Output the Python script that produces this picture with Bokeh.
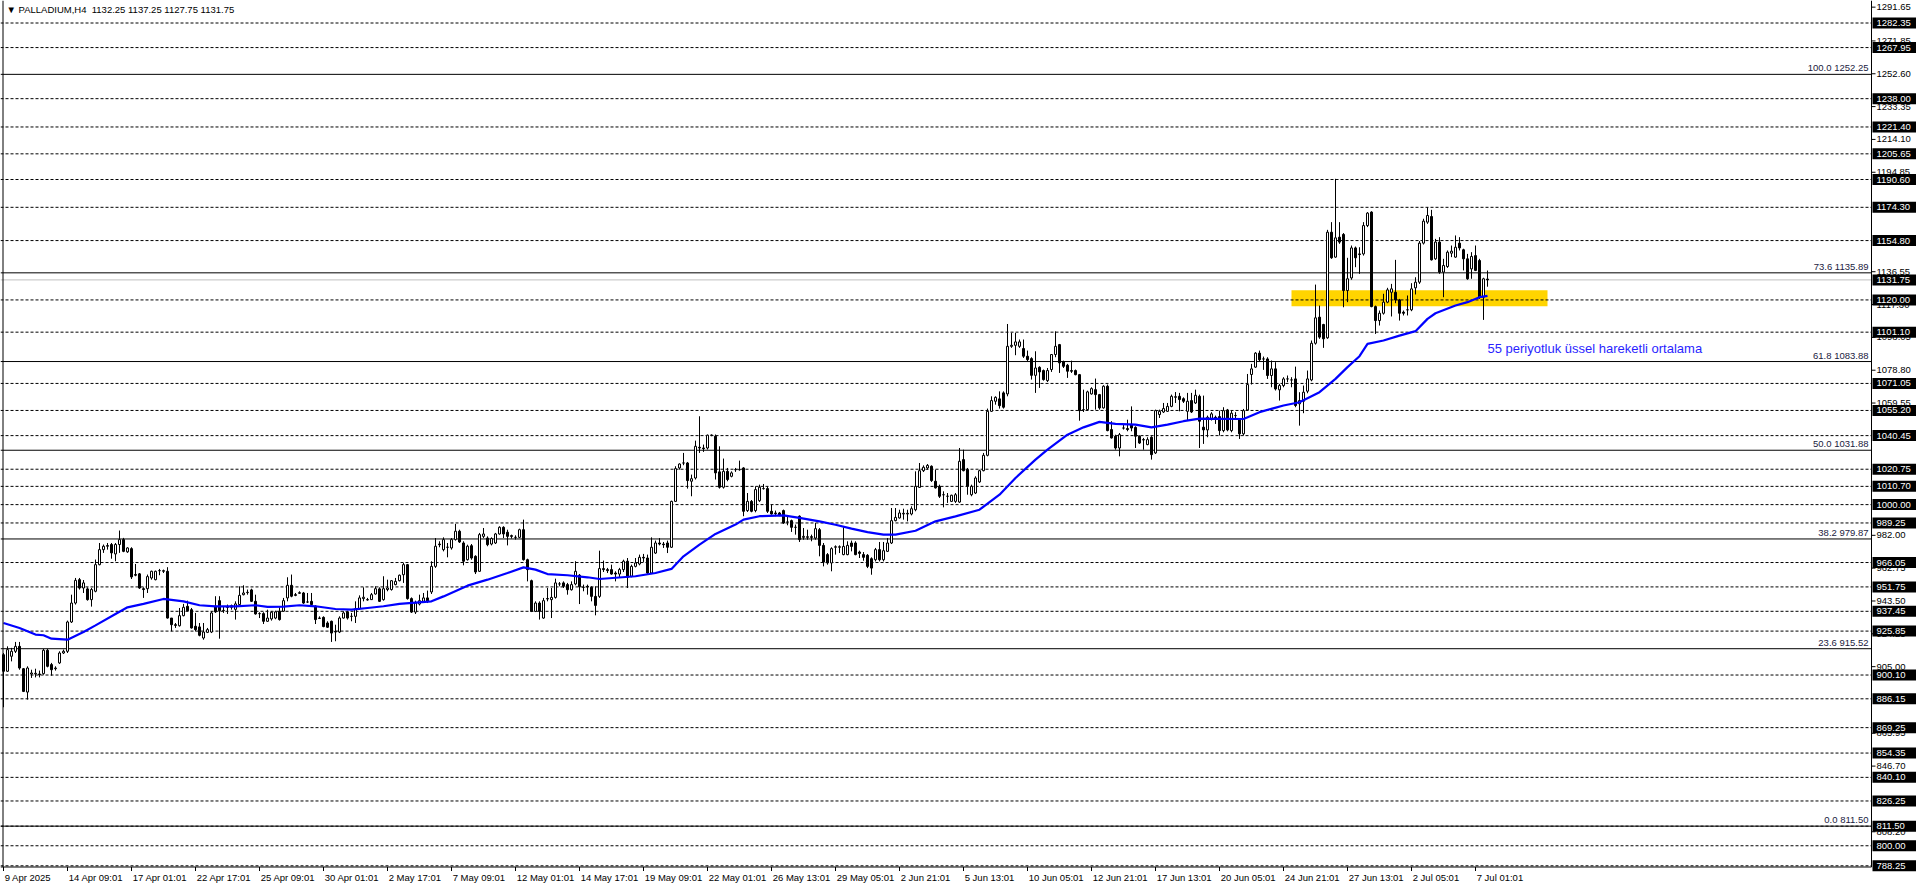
from bokeh.plotting import figure
from bokeh.models import ColumnDataSource, Range1d
from bokeh.core.properties import value
from bokeh.embed import file_html
from bokeh.resources import INLINE

# ---------------- data ----------------
title_text = "\u25BC PALLADIUM,H4\u00a0\u00a01132.25 1137.25 1127.75 1131.75"
ema_text = "55 periyotluk \u00fcssel hareketli ortalama"

opens = [
912.0, 902.3, 911.1, 914.0, 916.9, 903.8, 890.1, 900.7, 900.7, 900.7,
900.9, 914.6, 906.2, 903.8, 907.2, 913.0, 914.0, 931.2, 942.3, 956.0,
951.1, 950.6, 944.3, 949.2, 964.8, 973.6, 975.6, 976.6, 971.1, 976.6,
979.5, 972.3, 974.2, 959.0, 959.4, 950.7, 950.7, 957.0, 956.0, 961.3,
960.9, 960.9, 933.5, 929.6, 929.0, 934.9, 940.4, 938.4, 928.7, 928.3,
921.8, 925.1, 925.3, 940.4, 943.7, 937.8, 940.0, 939.8, 938.6, 941.4,
947.2, 948.4, 950.0, 943.3, 936.1, 936.1, 931.6, 933.0, 933.5, 937.5,
937.5, 945.3, 952.7, 947.2, 948.0, 948.2, 942.9, 943.3, 940.4, 933.5,
933.9, 930.6, 931.6, 925.7, 925.3, 933.5, 937.1, 934.5, 934.5, 939.0,
944.9, 944.3, 944.3, 947.6, 950.6, 944.3, 950.2, 950.2, 953.1, 955.4,
958.9, 964.8, 944.9, 937.0, 941.7, 943.3, 945.3, 948.8, 963.8, 976.9,
973.6, 975.0, 974.6, 979.5, 984.4, 977.5, 967.7, 975.9, 969.7, 960.9,
981.4, 980.4, 976.9, 977.5, 982.8, 986.7, 983.8, 981.8, 980.8, 980.8,
985.3, 967.7, 955.4, 937.4, 942.3, 933.5, 944.9, 944.3, 945.6, 953.5,
954.1, 953.1, 950.1, 953.5, 958.6, 951.5, 952.1, 951.5, 946.2, 946.2,
962.5, 961.9, 961.9, 959.9, 959.3, 961.9, 966.8, 958.0, 963.8, 965.2,
969.1, 968.7, 959.9, 971.6, 977.5, 976.9, 977.5, 975.0, 1001.9, 1021.5,
1024.4, 1024.4, 1013.7, 1015.6, 1033.6, 1033.2, 1033.2, 1040.7, 1040.1, 1019.2,
1010.2, 1019.5, 1016.6, 1020.5, 1020.5, 1021.5, 996.5, 1001.9, 996.5, 1002.3,
1009.4, 1009.4, 996.1, 995.1, 995.1, 996.5, 989.8, 990.6, 986.7, 993.2,
980.8, 980.8, 981.2, 980.4, 985.3, 976.1, 970.7, 965.8, 975.0, 975.0,
970.7, 970.7, 977.5, 977.5, 972.2, 970.7, 970.3, 968.3, 967.7, 973.6,
967.7, 972.6, 977.5, 990.6, 992.2, 994.5, 994.5, 994.5, 997.0, 1010.1,
1019.9, 1021.5, 1022.5, 1013.7, 1010.7, 1005.8, 1004.9, 1001.9, 1001.9, 1001.5,
1026.4, 1020.5, 1005.8, 1006.8, 1013.3, 1019.9, 1028.9, 1054.7, 1060.6, 1062.0,
1065.5, 1064.9, 1092.8, 1093.4, 1092.8, 1091.5, 1087.0, 1085.6, 1075.8, 1080.5,
1078.6, 1072.7, 1079.2, 1088.0, 1093.8, 1083.7, 1081.7, 1078.6, 1078.6, 1076.2,
1055.7, 1055.7, 1064.9, 1067.4, 1064.5, 1056.7, 1069.4, 1044.0, 1040.1, 1033.2,
1044.9, 1044.6, 1046.9, 1045.3, 1040.1, 1038.1, 1035.2, 1039.5, 1030.3, 1052.8,
1054.3, 1054.7, 1057.6, 1062.9, 1063.5, 1062.1, 1054.7, 1061.0, 1059.6, 1063.5,
1045.4, 1043.8, 1050.3, 1051.2, 1051.6, 1043.4, 1055.5, 1043.4, 1052.2, 1049.7,
1041.5, 1055.5, 1076.3, 1080.6, 1088.8, 1085.4, 1085.4, 1075.7, 1079.6, 1067.3,
1069.8, 1073.7, 1073.1, 1073.7, 1059.1, 1060.6, 1066.5, 1073.1, 1094.6, 1109.9,
1105.6, 1097.8, 1159.7, 1145.1, 1156.8, 1158.4, 1125.5, 1132.9, 1150.5, 1147.0,
1147.0, 1163.6, 1171.5, 1116.1, 1107.9, 1112.2, 1118.7, 1124.5, 1124.5, 1120.0,
1112.8, 1114.2, 1114.2, 1127.1, 1130.4, 1153.3, 1165.6, 1168.9, 1144.1, 1153.9,
1136.3, 1139.6, 1147.4, 1145.1, 1153.3, 1149.4, 1144.1, 1138.2, 1146.0, 1143.1,
1121.6, 1132.25]

highs = [
913.0, 916.9, 916.0, 919.5, 919.5, 904.2, 905.2, 903.2, 903.8, 902.7,
915.4, 915.4, 907.2, 905.2, 914.0, 915.0, 932.0, 947.2, 957.0, 957.0,
955.8, 951.5, 951.1, 967.8, 977.5, 976.6, 977.5, 977.5, 977.5, 984.8,
980.5, 975.0, 975.0, 965.2, 959.9, 951.5, 959.0, 961.3, 961.3, 962.3,
961.9, 963.3, 933.5, 930.6, 939.4, 941.8, 943.7, 939.4, 936.5, 930.6,
930.6, 927.7, 937.5, 946.3, 946.3, 940.4, 941.4, 941.4, 943.3, 952.1,
952.7, 950.2, 950.7, 947.2, 936.9, 936.9, 938.4, 937.5, 937.8, 939.8,
945.3, 957.4, 959.0, 948.2, 949.2, 948.8, 948.2, 948.2, 941.0, 934.5,
934.5, 931.6, 932.0, 929.6, 934.5, 937.5, 937.8, 936.5, 943.3, 946.8,
951.5, 945.3, 948.2, 952.1, 951.5, 958.0, 956.0, 955.8, 957.0, 959.0,
965.8, 965.2, 945.6, 943.7, 947.2, 948.2, 949.6, 966.8, 980.4, 978.5,
980.8, 977.5, 980.4, 988.7, 985.3, 978.5, 976.5, 976.9, 970.3, 983.4,
986.3, 981.4, 980.8, 983.4, 987.3, 987.3, 985.3, 982.4, 982.0, 985.9,
991.2, 968.3, 956.0, 943.3, 943.3, 945.3, 951.1, 951.1, 956.6, 954.6,
955.0, 954.1, 955.0, 966.8, 959.3, 953.1, 953.1, 952.1, 952.1, 973.0,
967.2, 962.9, 964.8, 960.9, 962.9, 967.7, 968.7, 964.8, 968.7, 970.7,
971.1, 970.7, 980.8, 978.9, 980.4, 978.1, 978.9, 1002.3, 1022.5, 1024.2,
1030.3, 1025.0, 1017.6, 1037.5, 1051.8, 1035.2, 1041.1, 1041.1, 1041.1, 1034.2,
1027.0, 1021.5, 1019.5, 1021.5, 1025.8, 1021.9, 1006.8, 1002.7, 1010.7, 1011.7,
1012.1, 1010.7, 1000.0, 996.5, 995.7, 997.1, 993.2, 991.2, 988.3, 993.7,
986.3, 985.3, 982.4, 989.2, 986.3, 977.5, 971.6, 975.0, 976.1, 976.1,
986.7, 978.5, 978.9, 978.5, 973.0, 972.2, 971.0, 969.1, 974.6, 978.1,
978.1, 980.4, 998.0, 998.0, 997.0, 997.6, 997.0, 999.0, 1019.5, 1024.4,
1023.0, 1023.8, 1023.0, 1020.5, 1011.7, 1007.8, 1006.8, 1005.8, 1006.8, 1033.2,
1032.2, 1021.5, 1011.7, 1016.6, 1020.5, 1030.3, 1056.3, 1063.5, 1063.5, 1066.4,
1066.4, 1105.9, 1100.7, 1100.7, 1096.8, 1096.8, 1090.3, 1086.4, 1089.9, 1081.1,
1079.2, 1080.1, 1088.3, 1101.6, 1094.2, 1084.4, 1082.5, 1084.4, 1079.2, 1076.6,
1067.4, 1066.8, 1068.8, 1073.9, 1064.9, 1070.0, 1070.4, 1048.9, 1041.0, 1042.0,
1046.9, 1049.8, 1057.6, 1045.9, 1040.6, 1039.1, 1039.5, 1040.1, 1055.7, 1055.7,
1059.6, 1059.6, 1064.5, 1066.0, 1065.5, 1062.9, 1065.5, 1065.5, 1067.4, 1064.5,
1063.9, 1052.2, 1054.2, 1052.2, 1055.1, 1057.1, 1056.1, 1055.1, 1054.2, 1050.3,
1056.1, 1076.6, 1082.5, 1089.4, 1090.3, 1086.8, 1086.4, 1084.5, 1083.5, 1070.8,
1074.7, 1075.7, 1074.7, 1080.9, 1065.9, 1069.8, 1078.6, 1096.2, 1129.0, 1116.7,
1106.0, 1161.1, 1165.6, 1191.0, 1165.6, 1159.2, 1144.7, 1151.9, 1151.3, 1150.9,
1165.6, 1171.5, 1172.0, 1116.7, 1113.8, 1123.6, 1127.1, 1129.4, 1143.5, 1120.6,
1113.8, 1122.6, 1129.8, 1133.3, 1154.5, 1167.6, 1174.4, 1172.8, 1155.8, 1156.8,
1144.1, 1149.0, 1151.9, 1157.8, 1156.8, 1150.0, 1147.0, 1148.0, 1151.9, 1144.1,
1133.0, 1137.25]

lows = [
881.2, 901.9, 908.1, 913.0, 903.2, 890.1, 885.7, 898.4, 898.7, 898.7,
900.3, 904.6, 899.7, 902.7, 906.6, 912.4, 913.0, 930.6, 941.4, 950.2,
948.2, 943.7, 940.2, 948.6, 964.4, 971.7, 973.6, 968.3, 966.8, 971.7,
972.1, 971.7, 956.4, 958.0, 950.6, 945.3, 948.2, 956.0, 955.6, 958.6,
959.9, 933.2, 925.7, 927.7, 928.5, 934.5, 937.5, 927.3, 925.7, 922.8,
920.8, 924.7, 924.7, 936.5, 921.4, 936.5, 935.9, 938.4, 932.6, 941.0,
946.8, 947.2, 942.9, 935.5, 933.5, 930.0, 931.2, 932.0, 932.8, 932.0,
937.1, 943.3, 945.7, 946.3, 947.6, 941.8, 942.3, 941.0, 930.0, 933.0,
928.1, 927.7, 919.5, 919.9, 924.7, 933.2, 932.6, 931.6, 930.6, 938.4,
943.3, 943.7, 944.1, 947.2, 942.9, 943.7, 949.2, 949.6, 952.7, 955.0,
954.1, 944.3, 936.5, 935.9, 940.9, 942.3, 942.3, 947.6, 962.9, 975.0,
972.6, 969.1, 973.6, 978.9, 977.5, 964.4, 967.2, 967.7, 959.3, 960.5,
980.4, 975.6, 976.1, 976.9, 982.4, 980.4, 976.1, 980.1, 979.5, 980.4,
967.2, 955.0, 937.0, 937.0, 932.6, 933.1, 943.3, 933.5, 944.9, 952.1,
951.1, 947.2, 949.6, 952.7, 941.7, 949.2, 947.2, 943.3, 935.1, 945.3,
960.5, 959.9, 958.9, 955.0, 957.0, 960.5, 951.1, 957.4, 963.2, 964.4,
966.4, 959.3, 959.3, 971.1, 976.1, 974.6, 971.6, 974.6, 1001.6, 1020.5,
1023.1, 1009.4, 1004.9, 1014.7, 1030.3, 1030.9, 1032.3, 1040.1, 1014.7, 1009.4,
1009.4, 1013.7, 1016.0, 1019.2, 1019.9, 993.2, 995.7, 995.5, 995.5, 1001.6,
1008.8, 995.1, 994.1, 993.2, 993.2, 988.7, 987.9, 984.0, 982.4, 978.1,
979.4, 979.4, 978.5, 979.4, 969.7, 963.8, 964.8, 960.9, 970.7, 971.6,
970.3, 970.3, 972.6, 970.3, 968.7, 967.1, 962.8, 958.9, 966.7, 966.7,
966.7, 972.2, 976.9, 990.2, 991.8, 991.2, 990.2, 993.7, 996.1, 1009.8,
1019.1, 1020.5, 1013.3, 1009.4, 1003.9, 998.4, 1001.0, 1001.5, 1001.0, 1001.0,
1019.5, 1005.8, 1004.9, 1006.2, 1012.7, 1019.5, 1028.3, 1054.3, 1058.6, 1056.3,
1056.3, 1063.5, 1091.9, 1087.6, 1091.9, 1086.0, 1084.0, 1073.3, 1065.5, 1068.4,
1072.7, 1071.9, 1077.8, 1086.4, 1077.2, 1080.1, 1074.3, 1077.2, 1075.8, 1049.2,
1054.3, 1055.1, 1064.5, 1055.7, 1055.7, 1056.3, 1043.0, 1038.7, 1032.2, 1028.3,
1044.0, 1043.0, 1043.0, 1033.2, 1035.6, 1032.2, 1034.8, 1026.4, 1029.7, 1050.8,
1053.7, 1054.3, 1057.1, 1059.6, 1054.7, 1059.6, 1049.2, 1053.7, 1059.0, 1033.2,
1035.6, 1039.5, 1049.3, 1047.3, 1040.5, 1042.4, 1043.0, 1042.4, 1050.3, 1038.5,
1040.5, 1055.1, 1070.4, 1080.2, 1084.1, 1079.0, 1073.7, 1068.8, 1066.9, 1061.0,
1068.8, 1071.8, 1068.8, 1057.1, 1046.3, 1053.6, 1065.3, 1072.3, 1093.8, 1097.2,
1091.9, 1097.2, 1144.1, 1144.7, 1152.9, 1115.7, 1118.7, 1131.8, 1139.2, 1135.3,
1146.0, 1162.7, 1115.7, 1100.1, 1105.0, 1111.4, 1118.1, 1110.3, 1118.1, 1107.9,
1110.9, 1110.9, 1113.4, 1123.2, 1129.4, 1152.5, 1164.6, 1143.1, 1143.5, 1135.3,
1121.6, 1138.8, 1145.1, 1144.7, 1149.0, 1137.3, 1131.8, 1132.4, 1136.9, 1120.6,
1108.3, 1127.75]

closes = [
902.3, 915.0, 914.0, 916.9, 904.2, 890.5, 904.2, 901.3, 901.1, 900.3,
914.6, 905.2, 903.2, 904.2, 913.0, 914.0, 931.2, 942.3, 955.6, 951.1,
954.1, 944.3, 950.2, 964.8, 973.6, 975.6, 976.0, 971.7, 976.6, 979.5,
972.6, 974.6, 957.6, 958.6, 951.1, 950.2, 957.8, 960.9, 960.9, 961.3,
961.3, 933.5, 929.6, 929.2, 934.9, 939.8, 937.8, 927.7, 926.7, 923.4,
925.3, 926.7, 936.5, 937.1, 937.8, 938.0, 939.8, 940.8, 941.8, 946.8,
948.2, 948.6, 943.3, 935.9, 936.1, 931.6, 933.5, 936.9, 937.1, 932.6,
943.7, 952.7, 946.3, 946.8, 948.4, 942.3, 942.9, 941.4, 932.6, 933.3,
928.5, 928.1, 924.7, 925.3, 933.5, 936.5, 933.5, 934.5, 939.0, 945.3,
945.7, 944.1, 947.2, 950.7, 943.3, 950.7, 951.1, 955.4, 955.0, 958.6,
964.8, 944.9, 937.0, 942.3, 943.7, 945.3, 943.3, 963.8, 975.6, 976.5,
979.5, 975.0, 979.5, 984.4, 978.1, 966.8, 975.6, 968.7, 960.5, 982.4,
982.8, 976.5, 980.1, 982.8, 986.7, 982.8, 981.4, 981.4, 980.8, 985.3,
967.7, 961.9, 937.4, 942.3, 937.4, 943.7, 944.7, 945.6, 954.1, 953.5,
952.1, 950.1, 953.1, 960.9, 951.9, 951.5, 951.7, 946.2, 940.9, 962.5,
961.9, 961.3, 959.3, 959.3, 961.9, 966.8, 957.4, 963.8, 965.8, 969.1,
968.7, 959.9, 975.0, 977.5, 976.9, 976.5, 975.0, 1001.9, 1021.1, 1023.8,
1024.4, 1014.1, 1015.2, 1034.2, 1033.2, 1032.8, 1040.7, 1040.7, 1018.6, 1010.2,
1019.5, 1014.7, 1018.6, 1020.5, 1020.5, 996.1, 1001.9, 996.1, 1008.8, 1010.2,
1009.4, 996.1, 994.5, 994.7, 993.7, 989.2, 989.8, 986.7, 986.7, 979.5,
981.4, 981.2, 980.8, 985.9, 976.1, 966.3, 965.8, 974.2, 975.3, 975.3,
975.5, 976.1, 975.5, 970.7, 971.4, 969.1, 963.8, 962.8, 973.6, 967.7,
973.0, 977.5, 990.6, 992.5, 995.1, 994.9, 994.9, 997.6, 1010.7, 1019.9,
1021.9, 1023.0, 1014.1, 1009.8, 1004.9, 1005.8, 1004.9, 1005.5, 1005.8, 1025.4,
1019.9, 1010.7, 1010.7, 1015.6, 1019.9, 1028.9, 1054.7, 1061.0, 1062.9, 1058.0,
1057.1, 1092.8, 1093.4, 1095.4, 1095.4, 1087.0, 1085.0, 1075.8, 1080.1, 1077.8,
1073.3, 1078.6, 1088.0, 1092.8, 1083.1, 1081.1, 1078.2, 1078.2, 1076.2, 1055.1,
1055.7, 1066.1, 1068.0, 1064.5, 1056.7, 1069.4, 1043.4, 1039.1, 1033.2, 1041.0,
1044.9, 1044.0, 1044.9, 1040.1, 1036.1, 1037.9, 1038.1, 1029.3, 1055.1, 1054.7,
1056.3, 1057.6, 1063.5, 1063.3, 1061.6, 1060.6, 1060.6, 1054.3, 1064.1, 1048.9,
1043.8, 1051.2, 1053.2, 1050.8, 1043.4, 1055.1, 1043.8, 1053.6, 1052.2, 1041.5,
1055.1, 1070.4, 1079.6, 1088.8, 1084.9, 1085.4, 1075.7, 1079.6, 1067.8, 1069.8,
1073.7, 1073.7, 1073.1, 1058.1, 1061.0, 1065.9, 1073.7, 1094.6, 1109.5, 1098.2,
1097.2, 1159.7, 1144.7, 1156.4, 1153.9, 1125.5, 1132.4, 1150.5, 1144.7, 1146.6,
1163.6, 1170.9, 1116.1, 1107.9, 1112.2, 1118.7, 1125.9, 1126.5, 1120.0, 1112.2,
1112.2, 1114.2, 1126.5, 1130.4, 1153.3, 1166.2, 1169.5, 1143.5, 1153.9, 1136.3,
1140.2, 1148.0, 1148.6, 1150.9, 1150.5, 1144.1, 1132.4, 1145.5, 1137.3, 1121.6,
1132.4, 1131.75]

# 55-period EMA (bar index, value)
ema_bar = [0, 4, 8, 10, 12, 16, 20, 23, 28, 31, 35, 40, 45, 49, 53, 58, 63, 66, 70, 74,
           78, 83, 87, 91, 95, 99, 107, 110, 116, 121, 126, 130, 133, 136, 141, 146, 149,
           158, 163, 167, 170, 174, 178, 183, 185, 189, 195, 199, 204, 208, 212, 216, 220,
           223, 228, 233, 238, 244, 249, 253, 258, 261, 266, 270, 274, 278, 283, 287, 291,
           295, 299, 310, 314, 320, 324, 329, 333, 336, 339, 341, 345, 349, 353, 356, 358,
           363, 366, 369, 371]
ema_val = [930.6, 927.7, 923.8, 923.4, 921.4, 920.8, 925.3, 929.2, 935.9, 939.8, 941.8,
           944.7, 943.3, 941.0, 940.4, 940.4, 941.0, 940.0, 940.2, 941.0, 940.4, 938.8,
           938.4, 939.4, 940.4, 941.8, 943.3, 946.2, 952.5, 956.0, 959.9, 963.2, 961.9,
           959.3, 958.6, 957.4, 956.4, 958.0, 959.9, 962.3, 969.7, 976.5, 982.8, 988.3,
           991.2, 993.2, 993.7, 992.2, 990.2, 988.2, 985.9, 983.9, 982.4, 982.4, 984.7,
           990.2, 993.1, 997.0, 1005.8, 1015.6, 1026.4, 1032.2, 1041.0, 1045.3, 1048.5,
           1047.3, 1046.9, 1045.3, 1046.9, 1048.9, 1050.4, 1050.2, 1054.2, 1058.1, 1060.0,
           1065.9, 1073.7, 1080.6, 1087.0, 1094.2, 1096.2, 1099.1, 1101.7, 1108.9, 1112.2,
           1116.7, 1118.7, 1121.6, 1122.4]

dashed_levels = [1282.35, 1267.95, 1238.00, 1221.40, 1205.65, 1190.60, 1174.30, 1154.80,
                 1120.00, 1101.10, 1071.05, 1055.20, 1040.45, 1020.75, 1010.70, 1000.00,
                 989.25, 966.05, 951.75, 937.45, 925.85, 900.10, 886.15, 869.25, 854.35,
                 840.10, 826.25, 811.50, 800.00, 788.25]
current_price = 1131.75

fib_levels = [1252.25, 1135.89, 1083.88, 1031.88, 979.87, 915.52, 811.50]
fib_labels = ["100.0 1252.25", "73.6 1135.89", "61.8 1083.88", "50.0 1031.88",
              "38.2 979.87", "23.6 915.52", "0.0 811.50"]

# price-scale labels that are visible (fully or partly) beside the boxed ones
axis_ticks = [1291.65, 1271.85, 1252.60, 1233.35, 1214.10, 1194.85, 1136.55, 1117.30,
              1098.05, 1078.80, 1059.55, 982.00, 962.75, 943.50, 924.25, 905.00, 865.95,
              846.70, 808.20]

time_tick_bars = [0, 16, 32, 48, 64, 80, 96, 112, 128, 144, 160, 176, 192, 208, 224,
                  240, 256, 272, 288, 304, 320, 336, 352, 368]
time_tick_labels = ["9 Apr 2025", "14 Apr 09:01", "17 Apr 01:01", "22 Apr 17:01",
                    "25 Apr 09:01", "30 Apr 01:01", "2 May 17:01", "7 May 09:01",
                    "12 May 01:01", "14 May 17:01", "19 May 09:01", "22 May 01:01",
                    "26 May 13:01", "29 May 05:01", "2 Jun 21:01", "5 Jun 13:01",
                    "10 Jun 05:01", "12 Jun 21:01", "17 Jun 13:01", "20 Jun 05:01",
                    "24 Jun 21:01", "27 Jun 13:01", "2 Jul 05:01", "7 Jul 01:01"]

zone_bars = [322, 386]
zone_prices = [1116.3, 1125.7]

# ---------------- geometry (page pixels -> data units) ----------------
W, H = 1916, 888
BAR_PX, BAR0_PX = 4.0, 3.0           # px per bar, page x of bar 0
PY_SCALE, REF_P, REF_Y = 1.7057, 788.25, 865.3   # px per price unit, anchor price/page y


def bar_at(xp):
    return (xp - BAR0_PX) / BAR_PX


def price_at(yp):
    return REF_P + (REF_Y - yp) / PY_SCALE


XL, XE, XR = bar_at(0), bar_at(1871), bar_at(W)
YBOT, YTOP = price_at(H), price_at(0)
YB = price_at(866.5)                  # chart bottom border
FONT = "Liberation Sans"

n = min(len(opens), len(highs), len(lows), len(closes))
xs = list(range(n))
o = opens[:n]; c = closes[:n]
h = [max(a, b, d) for a, b, d in zip(highs[:n], o, c)]
l = [min(a, b, d) for a, b, d in zip(lows[:n], o, c)]
src = ColumnDataSource(dict(
    x=xs, high=h, low=l,
    top=[max(a, b) for a, b in zip(o, c)],
    bot=[min(a, b) for a, b in zip(o, c)],
    fill=["white" if b >= a else "black" for a, b in zip(o, c)],
))

p = figure(width=W, height=H, output_backend="svg", toolbar_location=None,
           x_range=Range1d(XL, XR), y_range=Range1d(YBOT, YTOP),
           x_axis_location=None, y_axis_location=None, min_border=0)
p.outline_line_color = None
p.background_fill_color = "white"
p.border_fill_color = "white"
p.xgrid.visible = False
p.ygrid.visible = False

# yellow zone
p.quad(left=[zone_bars[0]], right=[zone_bars[1]], bottom=[zone_prices[0]], top=[zone_prices[1]],
       fill_color="#FFD400", line_color=None)

# horizontal dashed levels
k = len(dashed_levels)
p.segment(x0=[XL] * k, x1=[XE] * k, y0=dashed_levels, y1=dashed_levels,
          line_color="black", line_width=1, line_dash="3 2")
# fibonacci lines + labels
k = len(fib_levels)
p.segment(x0=[XL] * k, x1=[XE] * k, y0=fib_levels, y1=fib_levels, line_color="black", line_width=1)
p.text(x=[bar_at(1868)] * k, y=fib_levels, text=fib_labels, y_offset=-1,
       text_align="right", text_baseline="bottom", text_font=value(FONT),
       text_font_size="9.5px", text_color="#1a1a40")
# current price line
p.segment(x0=[XL], x1=[XE], y0=[current_price], y1=[current_price],
          line_color="#c0c0c0", line_width=1)

# candles
p.segment(x0="x", x1="x", y0="low", y1="high", source=src, line_color="black", line_width=1)
p.vbar(x="x", top="top", bottom="bot", width=0.5, fill_color="fill", line_color="black",
       line_width=1, source=src)

# EMA
p.line(ema_bar, ema_val, line_color="#0000FF", line_width=2.2)

# frame lines: left border, bottom border, price-scale line
p.segment(x0=[bar_at(2.5), XL, XE], x1=[bar_at(2.5), XE, XE],
          y0=[YB, YB, YB], y1=[YTOP, YB, YTOP], line_color="black", line_width=1)

# price scale: plain ticks + labels
k = len(axis_ticks)
p.segment(x0=[XE] * k, x1=[bar_at(1875)] * k, y0=axis_ticks, y1=axis_ticks,
          line_color="black", line_width=1)
p.text(x=[bar_at(1876)] * k, y=axis_ticks, text=["%.2f" % t for t in axis_ticks],
       text_align="left", text_baseline="middle", text_font=value(FONT),
       text_font_size="9.5px", text_color="black")

# boxed price labels (horizontal line levels and current price)
boxed = dashed_levels + [current_price]
k = len(boxed)
p.rect(x=[bar_at(1894)] * k, y=boxed, width=44, height=11, width_units="screen",
       height_units="screen", fill_color="black", line_color=None)
p.text(x=[bar_at(1876)] * k, y=boxed, text=["%.2f" % t for t in boxed],
       text_align="left", text_baseline="middle", text_font=value(FONT),
       text_font_size="9.5px", text_color="white")

# time scale
k = len(time_tick_bars)
p.segment(x0=time_tick_bars, x1=time_tick_bars, y0=[YB] * k, y1=[price_at(870.5)] * k,
          line_color="black", line_width=1)
p.text(x=[b + 0.3 for b in time_tick_bars], y=[price_at(876.5)] * k, text=time_tick_labels,
       text_align="left", text_baseline="middle", text_font=value(FONT),
       text_font_size="9.5px", text_color="black")

# texts
p.text(x=[bar_at(1487)], y=[price_at(348)], text=[ema_text], text_font=value(FONT),
       text_font_size="13px", text_color="#2a1fff", text_baseline="middle", text_align="left")
p.text(x=[bar_at(6)], y=[price_at(8.5)], text=[title_text], text_font=value(FONT),
       text_font_size="9.5px", text_color="black", text_baseline="middle", text_align="left")

open("out.html", "w").write(file_html(p, INLINE))
